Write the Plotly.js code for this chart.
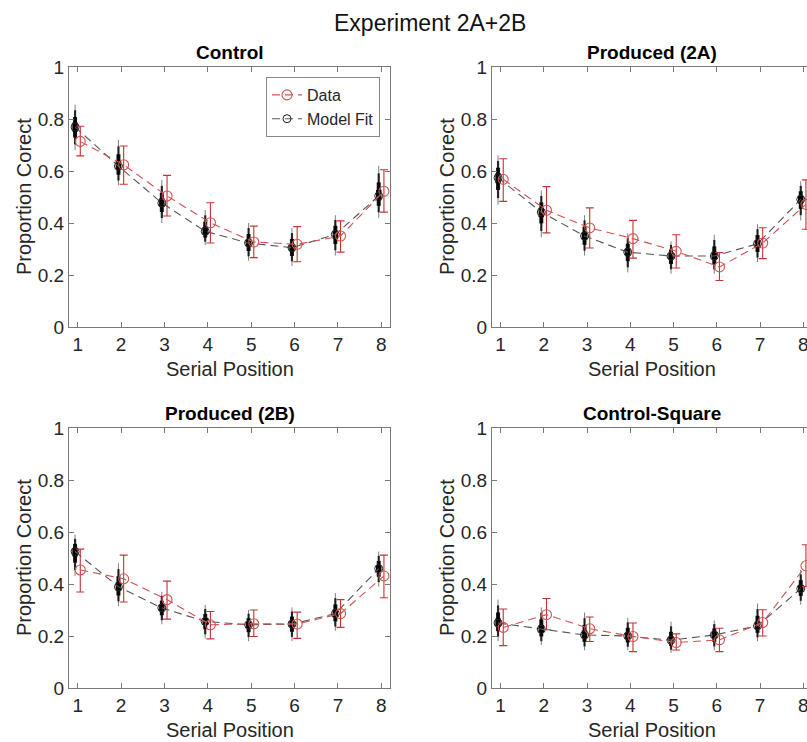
<!DOCTYPE html>
<html>
<head>
<meta charset="utf-8">
<script src="https://cdn.plot.ly/plotly-3.0.1.min.js"></script>
<style>
html, body { margin: 0; padding: 0; background: #fff; overflow: hidden; }
#chart { width: 860px; height: 742px; }
</style>
</head>
<body>
<div id="chart"></div>
<script>
// ---------- data ----------
const positions = [1, 2, 3, 4, 5, 6, 7, 8];
const panelTitles = ["Control", "Produced (2A)", "Produced (2B)", "Control-Square"];
const xTickLabels = ["1", "2", "3", "4", "5", "6", "7", "8"];
const yTickValues = [0, 0.2, 0.4, 0.6, 0.8, 1];
const yTickLabels = ["0", "0.2", "0.4", "0.6", "0.8", "1"];

// Control
const ctrlModel   = [0.769, 0.619, 0.477, 0.368, 0.323, 0.305, 0.356, 0.504];
const ctrlData    = [0.714, 0.624, 0.504, 0.401, 0.327, 0.318, 0.350, 0.522];
const ctrlErrHi   = [0.772, 0.696, 0.583, 0.478, 0.388, 0.386, 0.408, 0.605];
const ctrlErrLo   = [0.658, 0.549, 0.427, 0.323, 0.267, 0.251, 0.288, 0.442];
const ctrlCloudHi = [0.855, 0.720, 0.565, 0.450, 0.400, 0.380, 0.430, 0.620];
const ctrlCloudLo = [0.680, 0.545, 0.400, 0.315, 0.255, 0.235, 0.275, 0.420];

// Produced (2A)
const p2aModel   = [0.574, 0.442, 0.350, 0.288, 0.273, 0.273, 0.320, 0.491];
const p2aData    = [0.568, 0.449, 0.381, 0.340, 0.291, 0.231, 0.323, 0.472];
const p2aErrHi   = [0.647, 0.540, 0.458, 0.410, 0.355, 0.286, 0.382, 0.566];
const p2aErrLo   = [0.483, 0.362, 0.304, 0.265, 0.227, 0.179, 0.263, 0.376];
const p2aCloudHi = [0.660, 0.525, 0.430, 0.360, 0.330, 0.355, 0.395, 0.560];
const p2aCloudLo = [0.470, 0.345, 0.275, 0.210, 0.205, 0.205, 0.250, 0.410];

// Produced (2B)
const p2bModel   = [0.525, 0.389, 0.308, 0.256, 0.243, 0.246, 0.286, 0.459];
const p2bData    = [0.454, 0.420, 0.340, 0.243, 0.247, 0.246, 0.286, 0.431];
const p2bErrHi   = [0.534, 0.511, 0.411, 0.294, 0.300, 0.292, 0.340, 0.511];
const p2bErrLo   = [0.369, 0.331, 0.265, 0.189, 0.198, 0.191, 0.233, 0.347];
const p2bCloudHi = [0.590, 0.480, 0.370, 0.320, 0.300, 0.310, 0.365, 0.525];
const p2bCloudLo = [0.430, 0.315, 0.245, 0.190, 0.180, 0.180, 0.220, 0.390];

// Control-Square
const csqModel   = [0.250, 0.226, 0.204, 0.200, 0.184, 0.204, 0.239, 0.382];
const csqData    = [0.233, 0.282, 0.228, 0.198, 0.175, 0.185, 0.252, 0.470];
const csqErrHi   = [0.304, 0.344, 0.273, 0.250, 0.208, 0.230, 0.301, 0.551];
const csqErrLo   = [0.163, 0.224, 0.179, 0.140, 0.146, 0.140, 0.200, 0.390];
const csqCloudHi = [0.340, 0.310, 0.290, 0.270, 0.255, 0.260, 0.325, 0.455];
const csqCloudLo = [0.180, 0.165, 0.145, 0.145, 0.135, 0.145, 0.180, 0.320];

// ---------- build ----------
const panels = [
  {model: ctrlModel, data: ctrlData, hi: ctrlErrHi, lo: ctrlErrLo, cHi: ctrlCloudHi, cLo: ctrlCloudLo},
  {model: p2aModel,  data: p2aData,  hi: p2aErrHi,  lo: p2aErrLo,  cHi: p2aCloudHi,  cLo: p2aCloudLo},
  {model: p2bModel,  data: p2bData,  hi: p2bErrHi,  lo: p2bErrLo,  cHi: p2bCloudHi,  cLo: p2bCloudLo},
  {model: csqModel,  data: csqData,  hi: csqErrHi,  lo: csqErrLo,  cHi: csqCloudHi,  cLo: csqCloudLo}
];

const W = 860, H = 742;
const FONT = '"Liberation Sans", Arial, Helvetica, sans-serif';
const TXT = '#262626';
const AXC = '#7a7a7a';
const RED = 'rgb(214,82,82)';
const REDERR = 'rgb(196,52,52)';
const MODELC = 'rgb(85,85,85)';

// pixel boxes of the four plot areas
const boxes = [
  {x0: 69,  x1: 390, y0: 67,  y1: 327},
  {x0: 492, x1: 812, y0: 67,  y1: 327},
  {x0: 69,  x1: 390, y0: 428, y1: 688},
  {x0: 492, x1: 812, y0: 428, y1: 688}
];

const traces = [];
const layout = {
  width: W, height: H,
  margin: {l: 0, r: 0, t: 0, b: 0},
  paper_bgcolor: '#fff', plot_bgcolor: '#fff',
  font: {family: FONT, color: TXT},
  showlegend: true,
  legend: {
    x: 380 / W, y: 1 - 77 / H, xanchor: 'right', yanchor: 'top',
    xref: 'paper', yref: 'paper',
    bgcolor: '#fff', bordercolor: '#8a8a8a', borderwidth: 1,
    font: {family: FONT, size: 16, color: TXT},
    tracegroupgap: 0, itemwidth: 30
  },
  annotations: [],
};

const modelOffset = -0.06, dataOffset = 0.06;

panels.forEach((p, i) => {
  const k = i === 0 ? '' : String(i + 1);
  const xa = 'x' + k, ya = 'y' + k;
  const b = boxes[i];
  layout['xaxis' + k] = {
    domain: [b.x0 / W, b.x1 / W], anchor: ya,
    range: [0.8, 8.2], tickvals: positions, ticktext: xTickLabels,
    ticks: 'inside', ticklen: 5, tickcolor: AXC, tickwidth: 1,
    showline: true, linecolor: AXC, linewidth: 1, mirror: 'ticks',
    showgrid: false, zeroline: false,
    tickfont: {family: FONT, size: 19, color: TXT}
  };
  layout['yaxis' + k] = {
    domain: [1 - b.y1 / H, 1 - b.y0 / H], anchor: xa,
    range: [0, 1], tickvals: yTickValues, ticktext: yTickLabels,
    ticks: 'inside', ticklen: 5, tickcolor: AXC, tickwidth: 1,
    showline: true, linecolor: AXC, linewidth: 1, mirror: 'ticks',
    showgrid: false, zeroline: false,
    tickfont: {family: FONT, size: 19, color: TXT}
  };

  const mx = positions.map(v => v + modelOffset);
  const dx = positions.map(v => v + dataOffset);

  // model sample cloud (layered spindle)
  [[1.0, 1.0, 'rgba(0,0,0,0.5)'], [0.75, 2.2, 'rgba(0,0,0,0.8)'], [0.45, 4, 'rgba(0,0,0,0.92)'], [0.2, 5.5, 'rgba(0,0,0,0.95)']].forEach(([f, th, col]) => {
    traces.push({
      type: 'scatter', mode: 'markers', x: mx, y: p.model, xaxis: xa, yaxis: ya,
      marker: {size: 1, color: 'rgba(0,0,0,0)'}, showlegend: false, hoverinfo: 'skip',
      error_y: {type: 'data', symmetric: false,
        array: p.cHi.map((h, j) => (h - p.model[j]) * f),
        arrayminus: p.cLo.map((l, j) => (p.model[j] - l) * f),
        color: col, thickness: th, width: 0}
    });
  });

  // model fit line
  traces.push({
    type: 'scatter', mode: 'lines+markers', name: 'Model Fit',
    x: mx, y: p.model, xaxis: xa, yaxis: ya,
    line: {color: MODELC, width: 1.1, dash: '8px,5px'},
    marker: {symbol: 'circle-open', size: 8, color: '#222', line: {width: 1}},
    showlegend: i === 0, legendrank: 2
  });

  // data with error bars
  traces.push({
    type: 'scatter', mode: 'lines+markers', name: 'Data',
    x: dx, y: p.data, xaxis: xa, yaxis: ya,
    line: {color: RED, width: 1.1, dash: '8px,5px'},
    marker: {symbol: 'circle-open', size: 10, color: RED, line: {width: 1.1}},
    error_y: {type: 'data', symmetric: false,
      array: p.hi.map((h, j) => h - p.data[j]),
      arrayminus: p.lo.map((l, j) => p.data[j] - l),
      color: REDERR, thickness: 1.1, width: 4},
    showlegend: i === 0, legendrank: 1
  });

  // panel title
  layout.annotations.push({
    text: '<b>' + panelTitles[i] + '</b>', xref: 'paper', yref: 'paper',
    x: (b.x0 + b.x1) / 2 / W, y: 1 - (b.y0 - 15) / H, xanchor: 'center', yanchor: 'middle',
    showarrow: false, font: {family: FONT, size: 19, color: '#000'}
  });
  // y axis title
  layout.annotations.push({
    text: 'Proportion Corect', xref: 'paper', yref: 'paper', textangle: -90,
    x: (b.x0 - 45) / W, y: 1 - (b.y0 + b.y1) / 2 / H, xanchor: 'center', yanchor: 'middle',
    showarrow: false, font: {family: FONT, size: 20, color: TXT}
  });
  // x axis title
  layout.annotations.push({
    text: 'Serial Position', xref: 'paper', yref: 'paper',
    x: (b.x0 + b.x1) / 2 / W, y: 1 - (b.y1 + 42) / H, xanchor: 'center', yanchor: 'middle',
    showarrow: false, font: {family: FONT, size: 20, color: TXT}
  });
});

// main title
layout.annotations.push({
  text: 'Experiment 2A+2B', xref: 'paper', yref: 'paper',
  x: 0.5, y: 1 - 23 / H, xanchor: 'center', yanchor: 'middle',
  showarrow: false, font: {family: FONT, size: 23, color: '#111'}
});

Plotly.newPlot('chart', traces, layout, {staticPlot: true, displayModeBar: false});
</script>
</body>
</html>
